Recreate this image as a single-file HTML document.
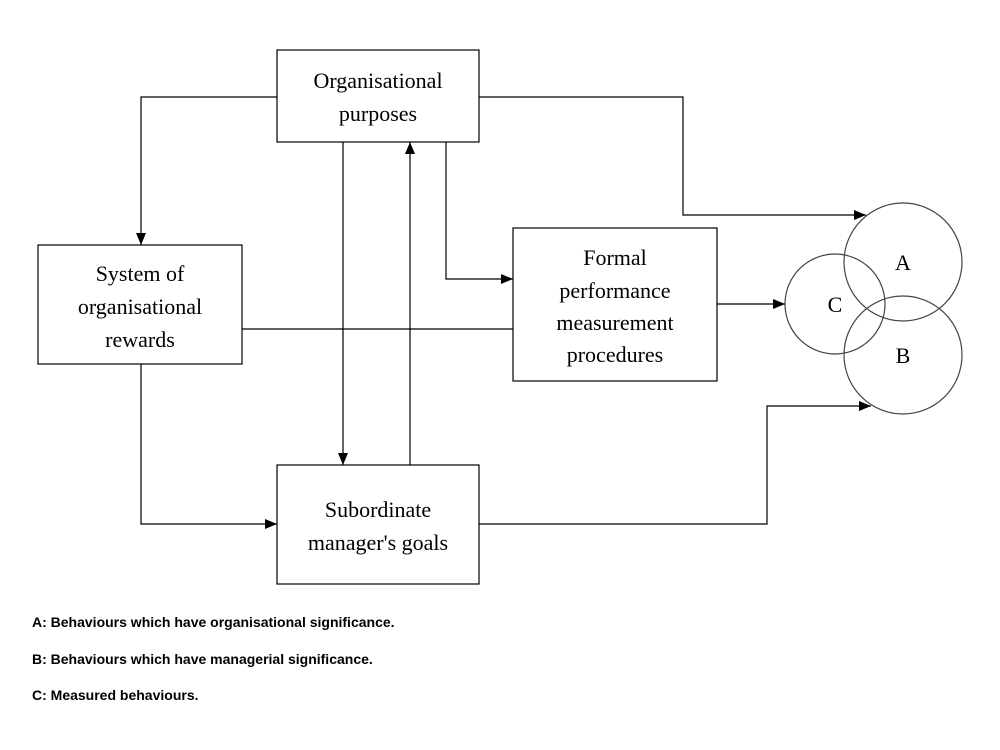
<!DOCTYPE html>
<html><head><style>
body{margin:0;background:#fff;}
svg{display:block}
.t{font-family:"Liberation Serif",serif;font-size:22px;fill:#000;text-anchor:middle}
.l{font-family:"Liberation Sans",sans-serif;font-size:14px;font-weight:bold;fill:#000}
</style></head><body>
<svg width="1000" height="750" viewBox="0 0 1000 750">
<defs><marker id="a" markerWidth="12" markerHeight="10" refX="12" refY="5" orient="auto" markerUnits="userSpaceOnUse"><path d="M0,0L12,5L0,10z" fill="#000"/></marker></defs>
<g fill="none" stroke="#000" stroke-width="1.2">
<rect x="277" y="50" width="202" height="92"/>
<rect x="38" y="245" width="204" height="119"/>
<rect x="513" y="228" width="204" height="153"/>
<rect x="277" y="465" width="202" height="119"/>
<circle cx="903" cy="262" r="59" stroke="#444"/>
<circle cx="903" cy="355" r="59" stroke="#444"/>
<circle cx="835" cy="304" r="50" stroke="#444"/>
<polyline points="277,97 141,97 141,245" marker-end="url(#a)"/>
<polyline points="479,97 683,97 683,215 866,215" marker-end="url(#a)"/>
<line x1="343" y1="142" x2="343" y2="465" marker-end="url(#a)"/>
<line x1="410" y1="465" x2="410" y2="142" marker-end="url(#a)"/>
<polyline points="446,142 446,279 513,279" marker-end="url(#a)"/>
<line x1="242" y1="329" x2="513" y2="329"/>
<polyline points="141,364 141,524 277,524" marker-end="url(#a)"/>
<line x1="717" y1="304" x2="785" y2="304" marker-end="url(#a)"/>
<polyline points="479,524 767,524 767,406 871,406" marker-end="url(#a)"/>
</g>
<text class="t" x="378" y="88">Organisational</text>
<text class="t" x="378" y="121">purposes</text>
<text class="t" x="140" y="281">System of</text>
<text class="t" x="140" y="314">organisational</text>
<text class="t" x="140" y="347">rewards</text>
<text class="t" x="615" y="265">Formal</text>
<text class="t" x="615" y="298">performance</text>
<text class="t" x="615" y="330">measurement</text>
<text class="t" x="615" y="362">procedures</text>
<text class="t" x="378" y="517">Subordinate</text>
<text class="t" x="378" y="550">manager's goals</text>
<text class="t" x="903" y="270">A</text>
<text class="t" x="903" y="363">B</text>
<text class="t" x="835" y="312">C</text>
<text class="l" x="32" y="627">A:  Behaviours which have organisational significance.</text>
<text class="l" x="32" y="664">B:  Behaviours which have managerial significance.</text>
<text class="l" x="32" y="700">C:  Measured behaviours.</text>
</svg>
</body></html>
